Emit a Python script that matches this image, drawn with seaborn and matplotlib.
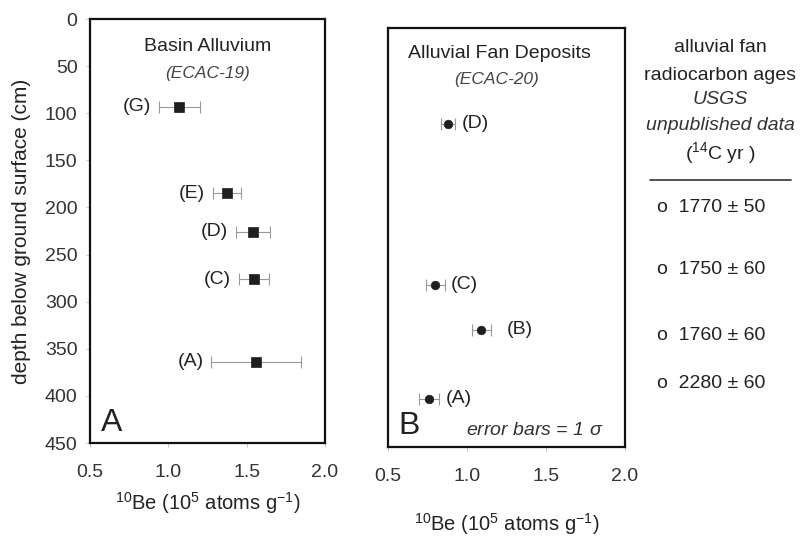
import matplotlib
matplotlib.use("Agg")
import matplotlib.pyplot as plt
import seaborn as sns
import pandas as pd

# ---- data ----
basin_labels = ["(G)", "(E)", "(D)", "(C)", "(A)"]
basin_be10 = [1.07, 1.375, 1.54, 1.545, 1.56]
basin_err = [0.13, 0.09, 0.11, 0.095, 0.285]
basin_depth = [93, 185, 226, 276, 364]

fan_labels = ["(D)", "(C)", "(B)", "(A)"]
fan_be10 = [0.88, 0.80, 1.09, 0.76]
fan_err = [0.045, 0.06, 0.06, 0.065]
fan_depth = [103, 276, 324, 398]

x_ticks = [0.5, 1.0, 1.5, 2.0]
y_ticks = [0, 50, 100, 150, 200, 250, 300, 350, 400, 450]

c14_ages = ["1770", "1750", "1760", "2280"]
c14_err = ["50", "60", "60", "60"]

sns.set_theme(style="white")
plt.rcParams["font.family"] = ["Liberation Sans", "DejaVu Sans"]
plt.rcParams["mathtext.fontset"] = "custom"
plt.rcParams["mathtext.rm"] = "Liberation Sans"
plt.rcParams["mathtext.it"] = "Liberation Sans:italic"

TXT = "#222222"
XLAB = "$^{10}$Be (10$^{5}$ atoms g$^{-1}$)"
fig = plt.figure(figsize=(8.01, 5.36), dpi=100)
axA = fig.add_axes([90/801, 1-443/536, 235/801, 424/536])
axB = fig.add_axes([388/801, 1-447/536, 237/801, 419/536])

dfA = pd.DataFrame({"x": basin_be10, "y": basin_depth})
dfB = pd.DataFrame({"x": fan_be10, "y": fan_depth})

for ax in (axA, axB):
    ax.set_xlim(0.5, 2.0)
    ax.set_ylim(450, 0)
    ax.set_xticks(x_ticks)
    ax.set_xticklabels([f"{t:.1f}" for t in x_ticks])
    for s in ax.spines.values():
        s.set_color("#111111")
        s.set_linewidth(1.6)
    ax.tick_params(axis="x", bottom=True, length=3, width=0.6, color="#bbbbbb",
                   pad=12, labelsize=14, labelcolor="#333333")

axA.set_yticks(y_ticks)
axA.tick_params(axis="y", left=True, length=3, width=0.6, color="#bbbbbb",
                pad=6, labelsize=14, labelcolor="#333333")
axB.set_yticks([])

# panel A
axA.errorbar(basin_be10, basin_depth, xerr=basin_err, fmt="none", ecolor="#999999",
             elinewidth=0.8, capsize=4, capthick=0.8, zorder=2)
sns.scatterplot(data=dfA, x="x", y="y", marker="s", s=45, color="#1e1e1e",
                edgecolor="#1e1e1e", linewidth=0.5, ax=axA, zorder=3)
for lab, x, e, y in zip(basin_labels, basin_be10, basin_err, basin_depth):
    axA.text(x - e - 0.05, y, lab, ha="right", va="center", fontsize=14, color=TXT)
axA.set_xlabel(XLAB, fontsize=14.5, color=TXT, labelpad=7)
axA.set_ylabel("depth below ground surface (cm)", fontsize=15, color=TXT, labelpad=10)
axA.text(0.5, 0.935, "Basin Alluvium", transform=axA.transAxes, ha="center", va="center",
         fontsize=14, color=TXT)
axA.text(0.5, 0.872, "(ECAC-19)", transform=axA.transAxes, ha="center", va="center",
         fontsize=12.5, style="italic", color="#444444")
axA.text(0.045, 0.012, "A", transform=axA.transAxes, ha="left", va="bottom",
         fontsize=23, color=TXT)

# panel B
axB.errorbar(fan_be10, fan_depth, xerr=fan_err, fmt="none", ecolor="#999999",
             elinewidth=0.8, capsize=4, capthick=0.8, zorder=2)
sns.scatterplot(data=dfB, x="x", y="y", marker="o", s=38, color="#1e1e1e",
                edgecolor="#1e1e1e", linewidth=0.5, ax=axB, zorder=3)
for lab, x, e, y in zip(fan_labels, fan_be10, fan_err, fan_depth):
    off = 0.1 if lab == "(B)" else 0.04
    axB.text(x + e + off, y, lab, ha="left", va="center", fontsize=14, color=TXT)
axB.set_xlabel(XLAB, fontsize=14.5, color=TXT, labelpad=19)
axB.set_ylabel("")
axB.text(0.47, 0.940, "Alluvial Fan Deposits", transform=axB.transAxes, ha="center",
         va="center", fontsize=14, color=TXT)
axB.text(0.46, 0.876, "(ECAC-20)", transform=axB.transAxes, ha="center", va="center",
         fontsize=12.5, style="italic", color="#444444")
axB.text(0.045, 0.015, "B", transform=axB.transAxes, ha="left", va="bottom",
         fontsize=23, color=TXT)
axB.text(0.62, 0.04, "error bars = 1 $\\sigma$", transform=axB.transAxes, ha="center",
         va="center", fontsize=14, style="italic", color="#333333")

# right-side annotation
cx = 720 / 801
def fy(py):
    return 1 - py / 536
fig.text(cx, fy(48), "alluvial fan", ha="center", va="center", fontsize=14, color=TXT)
fig.text(cx, fy(75), "radiocarbon ages", ha="center", va="center", fontsize=14, color=TXT)
fig.text(cx, fy(100), "USGS", ha="center", va="center", fontsize=14, style="italic", color="#333333")
fig.text(cx, fy(126), "unpublished data", ha="center", va="center", fontsize=14, style="italic", color="#333333")
fig.text(cx, fy(153), "($^{14}$C yr )", ha="center", va="center", fontsize=14, color=TXT)
fig.add_artist(plt.Line2D([650/801, 791/801], [fy(180), fy(180)], color="#333333", lw=1.2))
for age, err, py in zip(c14_ages, c14_err, [207, 270, 336, 383]):
    fig.text(657/801, fy(py), f"o  {age} ± {err}", ha="left", va="center", fontsize=14, color=TXT)

fig.savefig("out.png", dpi=100, facecolor="white")
